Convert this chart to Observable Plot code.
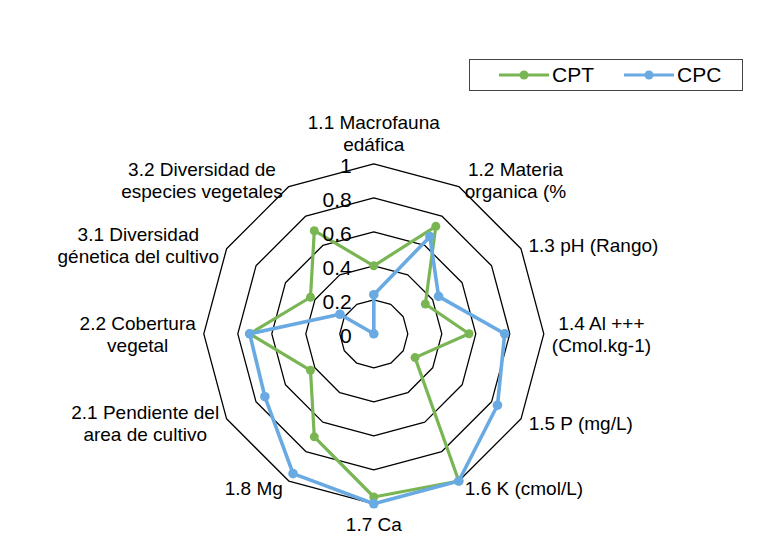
<!DOCTYPE html>
<html>
<head>
<meta charset="utf-8">
<script src="https://cdn.jsdelivr.net/npm/d3@7"></script>
<script src="https://cdn.jsdelivr.net/npm/@observablehq/plot@0.6"></script>
<style>
  body { margin: 0; background: #fff; font-family: "Liberation Sans", Arial, sans-serif; }
  #wrap { position: relative; width: 784px; height: 559px; }
  #legend { position: absolute; left: 469px; top: 59px; width: 274px; height: 32px; border: 1.3px solid #444; box-sizing: border-box; font-size: 21px; }
  #legend .item { position: absolute; top: 3px; display: flex; align-items: center; }
</style>
</head>
<body>
<div id="wrap">
  <div id="chart"></div>
  <div id="legend"></div>
</div>
<script>
const categories = [
  "1.1 Macrofauna\nedáfica",
  "1.2 Materia\norganica (%",
  "1.3 pH (Rango)",
  "1.4 Al +++\n(Cmol.kg-1)",
  "1.5 P (mg/L)",
  "1.6 K (cmol/L)",
  "1.7 Ca",
  "1.8 Mg",
  "2.1 Pendiente del\narea de cultivo",
  "2.2 Cobertura\nvegetal",
  "3.1 Diversidad\ngénetica del cultivo",
  "3.2 Diversidad de\nespecies vegetales"
];
const seriesNames = ["CPT", "CPC"];
const cptValues = [0.40, 0.73, 0.35, 0.56, 0.28, 1.00, 0.96, 0.70, 0.43, 0.73, 0.43, 0.70];
const cpcValues = [0.23, 0.66, 0.44, 0.77, 0.84, 1.00, 1.00, 0.95, 0.74, 0.73, 0.23, 0.00];
const tickValues = [0, 0.2, 0.4, 0.6, 0.8, 1];
const tickLabels = ["0", "0.2", "0.4", "0.6", "0.8", "1"];
const colors = {CPT: "#79b653", CPC: "#6aaae2"};

const W = 784, H = 559;
const cx = 373.3, cy = 333.3, k = 170; // pixel centre and px per unit
const n = categories.length;
const ang = i => i * 2 * Math.PI / n;

// rings
const rings = [];
tickValues.filter(v => v > 0).forEach(v => {
  for (let i = 0; i <= n; i++) rings.push({level: v, i: i % n, v});
});
// series
function closed(name, vals) {
  const pts = vals.map((v, i) => ({series: name, i, v}));
  return pts.concat([pts[0]]);
}
const cpt = closed("CPT", cptValues);
const cpc = closed("CPC", cpcValues);

// label positions computed from text widths
const FS = 19, LH = 22;
const ctx = document.createElement("canvas").getContext("2d");
ctx.font = `${FS}px "Liberation Sans", Arial, sans-serif`;
const labels = categories.map((t, i) => {
  const a = ang(i), s = Math.sin(a), c = Math.cos(a);
  const lines = t.split("\n");
  const w = Math.max(...lines.map(l => ctx.measureText(l).width));
  const h = lines.length * LH;
  let ox = 0, oy = 0; // px offsets (screen: oy down)
  if (Math.abs(s) < 0.01) {
    oy = c > 0 ? -(9 + h / 2) : (9 + h / 2);
  } else {
    const gap = 4 + 4 * Math.abs(s);
    ox = Math.sign(s) * (gap + w / 2);
    oy = -c * 8;
  }
  return {text: t, x: s + ox / k, y: c - oy / k};
});

const chart = Plot.plot({
  width: W, height: H,
  marginTop: 0, marginRight: 0, marginBottom: 0, marginLeft: 0,
  x: {domain: [-cx / k, (W - cx) / k], axis: null},
  y: {domain: [-(H - cy) / k, cy / k], axis: null},
  style: {fontFamily: '"Liberation Sans", Arial, sans-serif', background: "white"},
  marks: [
    Plot.line(rings, {
      x: d => d.v * Math.sin(ang(d.i)), y: d => d.v * Math.cos(ang(d.i)),
      z: "level", stroke: "black", strokeWidth: 1.3, curve: "linear"
    }),
    Plot.line(cpt, {
      x: d => d.v * Math.sin(ang(d.i)), y: d => d.v * Math.cos(ang(d.i)),
      stroke: colors.CPT, strokeWidth: 3.2, strokeLinejoin: "round"
    }),
    Plot.dot(cptValues.map((v, i) => ({v, i})), {
      x: d => d.v * Math.sin(ang(d.i)), y: d => d.v * Math.cos(ang(d.i)),
      r: 4.5, fill: colors.CPT, stroke: "none"
    }),
    Plot.line(cpc, {
      x: d => d.v * Math.sin(ang(d.i)), y: d => d.v * Math.cos(ang(d.i)),
      stroke: colors.CPC, strokeWidth: 3.6, strokeLinejoin: "round"
    }),
    Plot.dot(cpcValues.map((v, i) => ({v, i})), {
      x: d => d.v * Math.sin(ang(d.i)), y: d => d.v * Math.cos(ang(d.i)),
      r: 4.8, fill: colors.CPC, stroke: "none"
    }),
    Plot.text(tickValues.map((v, j) => ({v, label: tickLabels[j]})), {
      x: () => 0, y: "v", text: "label", textAnchor: "end", dx: -22, dy: 2,
      fontSize: 21, fill: "black"
    }),
    Plot.text(labels, {
      x: "x", y: "y", text: "text", textAnchor: "middle", lineAnchor: "middle",
      lineHeight: LH / FS, fontSize: FS, fill: "black"
    })
  ]
});
document.getElementById("chart").appendChild(chart);

// legend
const legend = document.getElementById("legend");
const legendPos = {CPT: 29, CPC: 154};
seriesNames.forEach(name => {
  const item = document.createElement("div");
  item.className = "item";
  item.style.left = legendPos[name] + "px";
  item.innerHTML = `<svg width="50" height="24" style="margin-right:3px"><line x1="0" x2="50" y1="12" y2="12" stroke="${colors[name]}" stroke-width="3.2"/><circle cx="25" cy="12" r="4.5" fill="${colors[name]}"/></svg><span>${name}</span>`;
  legend.appendChild(item);
});
</script>
</body>
</html>
